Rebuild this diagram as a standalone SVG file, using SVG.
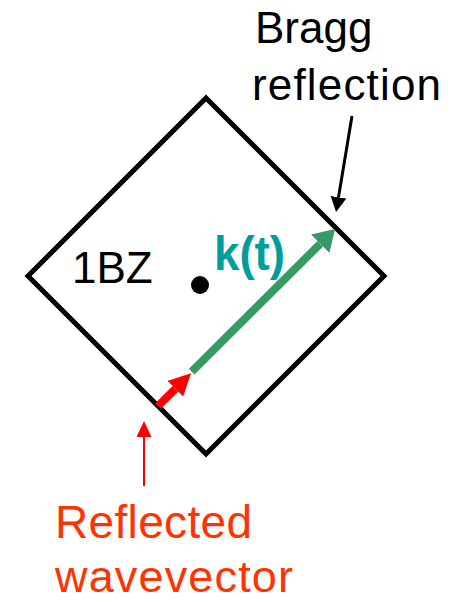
<svg xmlns="http://www.w3.org/2000/svg" width="451" height="602" viewBox="0 0 451 602">
  <style>
    .lbl { font-family: "Liberation Sans", Arial, sans-serif; }
  </style>
  <defs>
    <marker id="hGreen" markerUnits="userSpaceOnUse" markerWidth="22" markerHeight="26" viewBox="0 0 22 26" refX="0" refY="13" orient="auto">
      <path d="M0,0 L21,13 L0,26 z" fill="#379966"/>
    </marker>
    <marker id="hRed" markerUnits="userSpaceOnUse" markerWidth="23" markerHeight="22" viewBox="0 0 23 22" refX="0" refY="11" orient="auto">
      <path d="M0,0 L22,11 L0,22 z" fill="#FF0000"/>
    </marker>
    <marker id="hRedThin" markerUnits="userSpaceOnUse" markerWidth="17" markerHeight="15" viewBox="0 0 17 15" refX="0" refY="7.5" orient="auto">
      <path d="M0,0 L16,7.5 L0,15 z" fill="#FF0000"/>
    </marker>
    <marker id="hBlack" markerUnits="userSpaceOnUse" markerWidth="16" markerHeight="16" viewBox="0 0 16 16" refX="0" refY="8" orient="auto">
      <path d="M0,0 L15,8 L0,16 z" fill="#000000"/>
    </marker>
  </defs>
  <rect width="451" height="602" fill="#ffffff"/>

  <g id="zone">
    <polygon points="206,98 384,276 206,454 28,276" fill="none" stroke="#000" stroke-width="5" stroke-miterlimit="10"/>
    <text class="lbl" x="72" y="283" font-size="44" fill="#000">1BZ</text>
  </g>

  <g id="origin">
    <circle cx="200" cy="285" r="9" fill="#000"/>
  </g>

  <g id="k-label">
    <text class="lbl" x="214" y="270" font-size="48" font-weight="bold" fill="#009E9A" textLength="71" lengthAdjust="spacingAndGlyphs">k(t)</text>
  </g>

  <g id="bragg-label">
    <text class="lbl" x="255" y="43" font-size="44" fill="#000">Bragg</text>
    <text class="lbl" x="252" y="100" font-size="44" fill="#000" textLength="189" lengthAdjust="spacing">reflection</text>
  </g>

  <g id="reflected-label">
    <text class="lbl" x="55" y="538" font-size="46" fill="#FF3300" textLength="197" lengthAdjust="spacing">Reflected</text>
    <text class="lbl" x="55" y="592" font-size="45" fill="#FF3300" textLength="238" lengthAdjust="spacing">wavevector</text>
  </g>

  <g id="connectors">
    <line x1="191.7" y1="371.7" x2="320.2" y2="243.8" stroke="#379966" stroke-width="8" marker-end="url(#hGreen)"/>
    <line x1="158" y1="406" x2="175.4" y2="388.8" stroke="#FF0000" stroke-width="8" marker-end="url(#hRed)"/>
    <line x1="144" y1="486" x2="144" y2="437" stroke="#FF0000" stroke-width="2" marker-end="url(#hRedThin)"/>
    <line x1="352" y1="116" x2="338.5" y2="197.2" stroke="#000" stroke-width="3" marker-end="url(#hBlack)"/>
  </g>
</svg>
